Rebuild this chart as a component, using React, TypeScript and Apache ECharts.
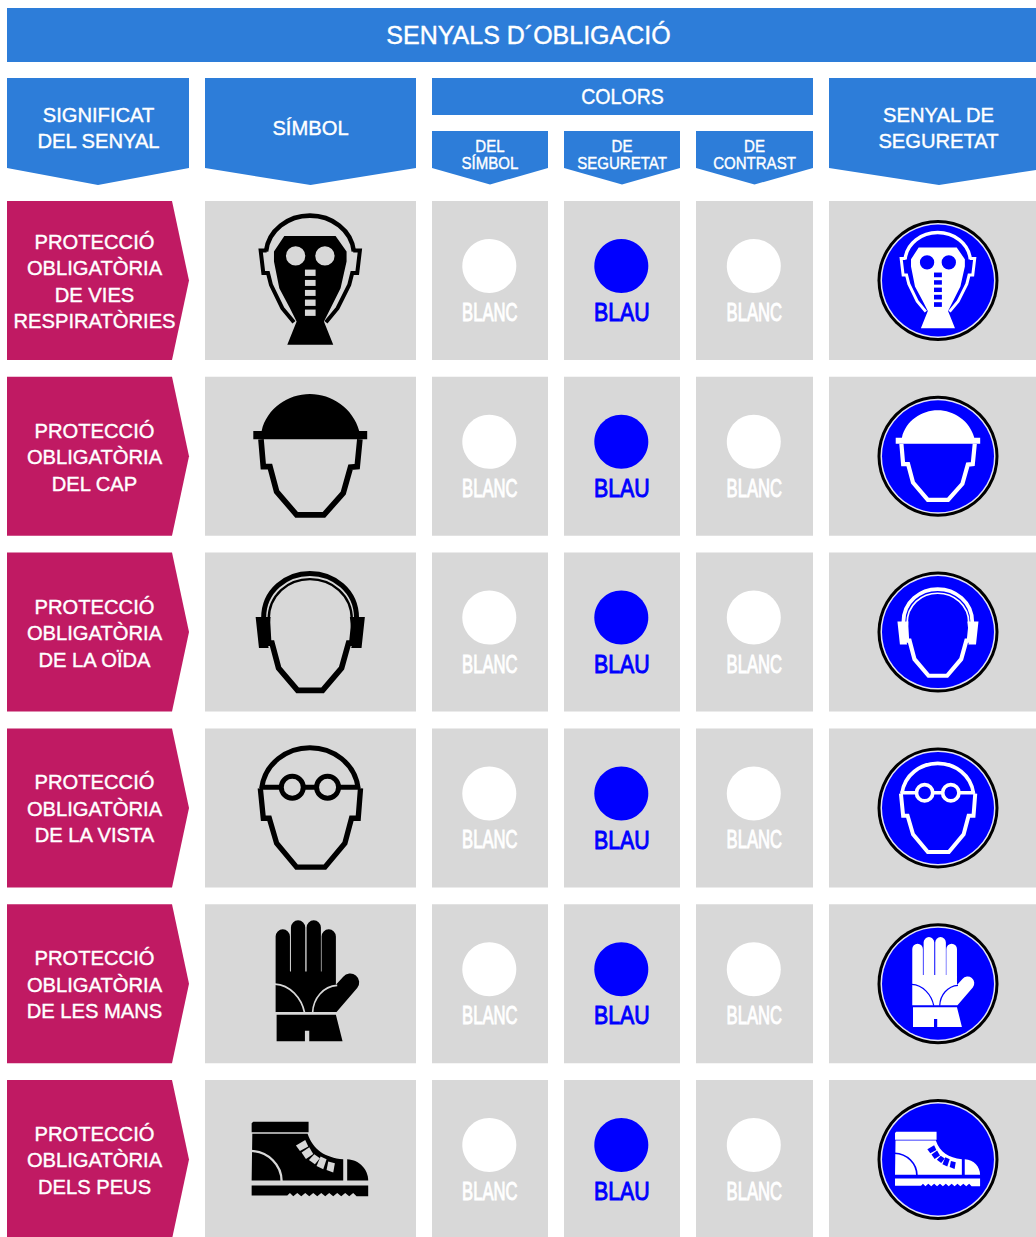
import React, { useEffect, useRef } from "react";
import * as echarts from "echarts";

const TITLE = "SENYALS D´OBLIGACIÓ";
const COLUMN_SIGNIFICANCE = ["SIGNIFICAT", "DEL SENYAL"];
const COLUMN_SYMBOL = ["SÍMBOL"];
const COLUMN_COLORS = ["COLORS"];
const COLUMN_SIGN = ["SENYAL DE", "SEGURETAT"];
const SUB_COLUMNS = [["DEL", "SÍMBOL"], ["DE", "SEGURETAT"], ["DE", "CONTRAST"]];
const MEANINGS = [
  ["PROTECCIÓ", "OBLIGATÒRIA", "DE VIES", "RESPIRATÒRIES"],
  ["PROTECCIÓ", "OBLIGATÒRIA", "DEL CAP"],
  ["PROTECCIÓ", "OBLIGATÒRIA", "DE LA OÏDA"],
  ["PROTECCIÓ", "OBLIGATÒRIA", "DE LA VISTA"],
  ["PROTECCIÓ", "OBLIGATÒRIA", "DE LES MANS"],
  ["PROTECCIÓ", "OBLIGATÒRIA", "DELS PEUS"],
];
const COLOR_NAMES = ["BLANC", "BLAU", "BLANC"];
const COLOR_VALUES = ["#ffffff", "#0000ff", "#ffffff"];
const COLOR_TEXT = ["#ffffff", "#0000ff", "#ffffff"];

const BLUE = "#2d7dd9";
const MAGENTA = "#c01a63";
const GRAY = "#d8d8d8";
const FONT = '"Liberation Sans", Arial, sans-serif';

type Part = { d: string; kind: "fill" | "stroke"; lw?: number; role: "fg" | "bg" };
type Icon = { ox: number; oy: number; cy: number; signScale: number; parts: Part[] };

const circle = (cx: number, cy: number, r: number) =>
  `M${cx - r} ${cy}A${r} ${r} 0 1 1 ${cx + r} ${cy}A${r} ${r} 0 1 1 ${cx - r} ${cy}Z`;
const rect = (x0: number, y0: number, x1: number, y1: number) =>
  `M${x0} ${y0}L${x1} ${y0}L${x1} ${y1}L${x0} ${y1}Z`;

const ICONS: Icon[] = [
  {
    ox: 250, oy: 205, cy: 280.5, signScale: 0.74,
    parts: [
      { kind: "stroke", role: "fg", lw: 14, d: "M48 140C55 75 115 32 180 32C245 32 305 75 312 140" },
      { kind: "stroke", role: "fg", lw: 12, d: "M50 137L32 137L40 204L54 204L63 240L97 310L132 352" },
      { kind: "stroke", role: "fg", lw: 12, d: "M310 137L330 137L322 204L307 204L298 240L263 310L228 352" },
      { kind: "fill", role: "fg", d: "M103 93L257 93L290 140L290 170L272 250L242 310L222 350L250 420L112 420L140 350L120 310L88 250L72 170L72 140Z" },
      { kind: "fill", role: "bg", d: circle(137, 153, 29) },
      { kind: "fill", role: "bg", d: circle(225, 153, 29) },
      { kind: "fill", role: "bg", d: rect(165, 194, 197, 213) },
      { kind: "fill", role: "bg", d: rect(165, 225, 197, 243) },
      { kind: "fill", role: "bg", d: rect(165, 255, 197, 273) },
      { kind: "fill", role: "bg", d: rect(165, 284, 197, 303) },
      { kind: "fill", role: "bg", d: rect(165, 314, 197, 333) },
    ],
  },
  {
    ox: 230, oy: 380, cy: 456.3, signScale: 0.74,
    parts: [
      { kind: "stroke", role: "fg", lw: 17, d: "M93 178L100 260L120 260L140 335L200 405L282 405L340 340L362 262L382 260L390 178" },
      { kind: "fill", role: "fg", d: "M95 153C110 85 175 42 240 42C305 42 370 85 388 153L412 153L412 178L70 178L70 153Z" },
    ],
  },
  {
    ox: 230, oy: 380, cy: 632.1, signScale: 0.74,
    parts: [
      { kind: "stroke", role: "fg", lw: 17, d: "M112 720L116 790L126 790L146 865L203 932L278 932L335 865L356 790L366 790L373 720" },
      { kind: "stroke", role: "fg", lw: 15, d: "M101 715C101 632 170 581 240 581C310 581 380 632 380 715" },
      { kind: "stroke", role: "fg", lw: 7, d: "M116 720C116 645 175 598 240 598C305 598 366 645 366 720" },
      { kind: "fill", role: "fg", d: "M77 712L122 712L113 790L116 805L87 805Z" },
      { kind: "fill", role: "fg", d: "M405 712L360 712L368 790L364 805L395 805Z" },
    ],
  },
  {
    ox: 230, oy: 735, cy: 807.9, signScale: 0.74,
    parts: [
      { kind: "stroke", role: "fg", lw: 16, d: "M91 160L100 250L118 250L140 325L200 397L285 397L345 325L365 250L385 250L392 160" },
      { kind: "stroke", role: "fg", lw: 15, d: "M95 160C105 85 170 38 240 38C310 38 375 85 385 160" },
      { kind: "stroke", role: "fg", lw: 15, d: "M90 157L155 157M225 157L260 157M330 157L390 157" },
      { kind: "stroke", role: "fg", lw: 15, d: circle(187, 157, 33) },
      { kind: "stroke", role: "fg", lw: 15, d: circle(293, 157, 33) },
    ],
  },
  {
    ox: 230, oy: 735, cy: 983.7, signScale: 0.74,
    parts: [
      { kind: "fill", role: "fg", d: "M137 832L137 605A21.5 21.5 0 0 1 180 605L180 710L183 710L183 578A21.5 21.5 0 0 1 226 578L226 710L230 710L230 578A21.5 21.5 0 0 1 273 578L273 710L275 710L275 605A21.5 21.5 0 0 1 318 605L318 750L340 726A25 25 0 0 1 382 760L320 832Z" },
      { kind: "fill", role: "fg", d: "M140 840L318 840L338 920L238 920L238 888L225 888L225 920L140 920Z" },
      { kind: "stroke", role: "bg", lw: 5, d: "M135 748C180 750 215 790 224 834" },
      { kind: "stroke", role: "bg", lw: 5, d: "M248 834C250 790 280 755 322 752" },
    ],
  },
  {
    ox: 230, oy: 1100, cy: 1159.5, signScale: 0.73,
    parts: [
      { kind: "fill", role: "fg", d: "M65 70L70 65L236 65L236 97L65 97Z" },
      { kind: "fill", role: "fg", d: "M67 101L233 101C250 150 285 172 340 178L340 242L65 242Z" },
      { kind: "fill", role: "fg", d: "M352 178C390 180 415 210 415 242L352 242Z" },
      { kind: "fill", role: "fg", d: "M65 257L415 257L415 289L380 289L370 279L358 289L346 279L334 289L322 279L310 289L298 279L286 289L274 279L262 289L250 279L238 289L226 279L214 289L202 279L190 289L180 279L172 287L65 287Z" },
      { kind: "stroke", role: "bg", lw: 7, d: "M63 153C115 155 155 195 155 244" },
      { kind: "fill", role: "bg", d: "M198 137L226 120L235 140L210 153Z" },
      { kind: "fill", role: "bg", d: "M215 158L238 142L250 162L228 177Z" },
      { kind: "fill", role: "bg", d: "M237 180L253 163L270 175L255 193Z" },
      { kind: "fill", role: "bg", d: "M260 198L272 170L290 178L280 208Z" },
      { kind: "fill", role: "bg", d: "M290 210L295 185L315 190L310 218Z" },
    ],
  },
];

const ROW_TOPS = [201, 376.8, 552.6, 728.4, 904.2, 1080];
const ROW_H = 159;

function down(x0: number, x1: number, y0: number, sh: number, tip: number, tx: number, fill: string) {
  return { type: "polygon", silent: true, shape: { points: [[x0, y0], [x1, y0], [x1, sh], [tx, tip], [x0, sh]] }, style: { fill } };
}
function cell(x0: number, x1: number, y0: number, y1: number, fill: string) {
  return { type: "rect", silent: true, shape: { x: x0, y: y0, width: x1 - x0, height: y1 - y0 }, style: { fill } };
}
function txt(text: string, x: number, y: number, size: number, sx: number, fill = "#ffffff", lw = 0.4) {
  return {
    type: "text", silent: true, x, y, scaleX: sx, scaleY: 1,
    style: { text, fill, font: `${size}px ${FONT}`, align: "center", verticalAlign: "middle", textAlign: "center", textVerticalAlign: "middle", stroke: fill, lineWidth: lw },
  };
}

function buildElements() {
  const els: any[] = [];
  els.push(cell(7, 1036, 8, 62, BLUE));
  els.push(txt(TITLE, 528.5, 35, 25, 1));

  els.push(down(7, 189, 78, 168, 185, 98, BLUE));
  els.push(down(205, 416, 78, 168, 185, 310.5, BLUE));
  els.push(cell(432, 813, 78, 115, BLUE));
  const subX: [number, number][] = [[432, 548], [564, 680], [696, 813]];
  subX.forEach(([a, b]) => els.push(down(a, b, 131, 168, 184.5, (a + b) / 2, BLUE)));
  els.push(down(829, 1049, 78, 168, 185, 939, BLUE));

  COLUMN_SIGNIFICANCE.forEach((t, i) => els.push(txt(t, 98.5, 114 + i * 26.5, 21, 0.96)));
  COLUMN_SYMBOL.forEach((t) => els.push(txt(t, 310.5, 127, 21, 0.96)));
  COLUMN_COLORS.forEach((t) => els.push(txt(t, 622.5, 96.5, 22, 0.89)));
  COLUMN_SIGN.forEach((t, i) => els.push(txt(t, 938.5, 114 + i * 26.5, 21, 0.96)));
  SUB_COLUMNS.forEach((lines, c) => {
    const cx = (subX[c][0] + subX[c][1]) / 2;
    lines.forEach((t, i) => els.push(txt(t, cx, 146 + i * 17, 17, 0.885)));
  });

  ROW_TOPS.forEach((top, r) => {
    const bottom = top + ROW_H;
    const mid = top + ROW_H / 2;
    els.push({ type: "polygon", silent: true, shape: { points: [[7, top], [172, top], [189, mid], [172, bottom], [7, bottom]] }, style: { fill: MAGENTA } });
    els.push(cell(205, 416, top, bottom, GRAY));
    subX.forEach(([a, b]) => els.push(cell(a, b, top, bottom, GRAY)));
    els.push(cell(829, 1036, top, bottom, GRAY));

    const lines = MEANINGS[r];
    const step = 26.5;
    const first = lines.length === 4 ? top + 40 : top + 53.3;
    lines.forEach((t, i) => els.push(txt(t, 94.5, first + i * step, 21, 0.96)));

    subX.forEach(([a, b], c) => {
      const cx = (a + b) / 2 - 0.7;
      els.push({ type: "ellipse", silent: true, shape: { cx, cy: top + 65, rx: 27, ry: 27 }, style: { fill: COLOR_VALUES[c] } });
      const name = COLOR_NAMES[c];
      els.push(txt(name, cx + 0.5, top + 111, 26, name === "BLAU" ? 0.82 : 0.64, COLOR_TEXT[c], 1));
    });

    els.push({ type: "circle", silent: true, shape: { cx: 938, cy: mid, r: 60.5 }, style: { fill: "#000000" } });
    els.push({ type: "circle", silent: true, shape: { cx: 938, cy: mid, r: 57.5 }, style: { fill: "#e4e4f4" } });
    els.push({ type: "circle", silent: true, shape: { cx: 938, cy: mid, r: 56 }, style: { fill: "#0000ff" } });

    const icon = ICONS[r];
    const cxSym = 310.5;
    const cySym = icon.cy;
    const colours = [
      { fg: "#000000", bg: GRAY, scale: 1 / 3, x: icon.ox, y: icon.oy },
      {
        fg: "#ffffff", bg: "#0000ff", scale: icon.signScale / 3,
        x: 938 + (icon.ox - cxSym) * icon.signScale,
        y: mid + (icon.oy - cySym) * icon.signScale,
      },
    ];
    colours.forEach((v) => {
      icon.parts.forEach((p, i) => {
        const colour = p.role === "fg" ? v.fg : v.bg;
        els.push({
          type: `icon_${r}_${i}`, silent: true, x: v.x, y: v.y, scaleX: v.scale, scaleY: v.scale,
          style: p.kind === "fill"
            ? { fill: colour, stroke: null }
            : { fill: "none", stroke: colour, lineWidth: p.lw, lineJoin: "miter" },
        });
      });
    });
  });
  return els;
}

ICONS.forEach((icon, r) => {
  icon.parts.forEach((p, i) => {
    echarts.graphic.registerShape(`icon_${r}_${i}`, echarts.graphic.extendPath(p.d, {}) as any);
  });
});

export default function App() {
  const ref = useRef<HTMLDivElement>(null);
  useEffect(() => {
    document.body.style.margin = "0";
    document.body.style.overflow = "hidden";
    document.body.style.background = "#ffffff";
    const chart = echarts.init(ref.current!, undefined, { renderer: "svg" });
    chart.setOption({ animation: false, graphic: { elements: buildElements() } });
    return () => chart.dispose();
  }, []);
  return <div ref={ref} style={{ width: 1036, height: 1237, overflow: "hidden" }} />;
}
